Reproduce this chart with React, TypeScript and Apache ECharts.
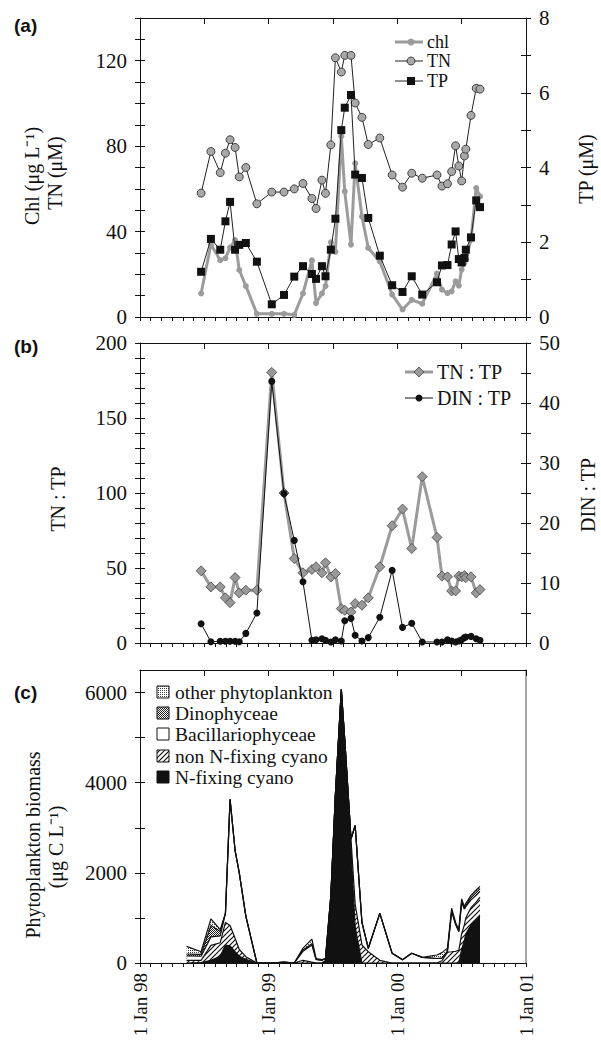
import React, { useEffect, useRef } from "react";
import * as echarts from "echarts";

// ---------- DATA ----------
const sampleDates = [
  "1998-06-22", "1998-07-20", "1998-08-16", "1998-08-31", "1998-09-13", "1998-09-27", "1998-10-09", "1998-10-28", "1998-11-28",
  "1999-01-10", "1999-02-13", "1999-03-13", "1999-04-07", "1999-05-02", "1999-05-14", "1999-05-31", "1999-06-10", "1999-06-25",
  "1999-07-08", "1999-07-25", "1999-08-04", "1999-08-22", "1999-09-03", "1999-09-22", "1999-10-10", "1999-11-12", "1999-12-17",
  "2000-01-16", "2000-02-11", "2000-03-11", "2000-04-22", "2000-05-06", "2000-05-22", "2000-06-03", "2000-06-14", "2000-06-23",
  "2000-07-01", "2000-07-09", "2000-07-13", "2000-07-28", "2000-08-12", "2000-08-23",
];
const chl = [11, 34, 26.6, 27.5, 32.5, 36, 22, 14.5, 1.5, 1.5, 1.5, 1, 11, 26.5, 6.5, 11, 14.5, 35, 30.5, 84.6, 58.8, 33.9, 72, 47, 32.3, 26, 10.5, 3.5, 8, 6.2, 20.3, 12.8, 11.2, 12, 16.7, 14.7, 22.2, 25.3, 27, 36.2, 60.4, 56.5];
const tn = [58, 77.5, 67.6, 76.7, 83, 79.4, 65.6, 70, 53, 58.5, 58.5, 60, 62.5, 55.5, 50.8, 64.1, 57.9, 80.6, 121.4, 114.7, 122.5, 122.5, 100.2, 93.5, 80.8, 83.8, 66.5, 60.8, 67.3, 65, 66.5, 61.3, 62.4, 68.1, 80.2, 70.7, 63.7, 75.4, 78.6, 94.4, 107.1, 106.7];
const tp = [1.21, 2.09, 1.8, 2.56, 3.08, 1.8, 1.93, 1.98, 1.48, 0.34, 0.59, 1.08, 1.36, 1.15, 1.02, 1.36, 1.09, 1.8, 2.63, 5.0, 5.6, 5.94, 3.81, 3.72, 2.65, 1.64, 0.85, 0.67, 1.09, 0.6, 0.93, 1.38, 1.39, 1.94, 2.29, 1.55, 1.46, 1.58, 1.8, 2.13, 3.12, 2.94];
const tnTp = [48.1, 37.4, 37.4, 30.1, 26.9, 43.6, 33.4, 35.2, 35.2, 180.4, 100, 56.3, 46.8, 49, 50.8, 46.8, 53.5, 44, 46.3, 22.9, 21.8, 20.7, 26.3, 25.2, 30.1, 50.8, 78.2, 89.3, 63, 110.9, 70.4, 44.6, 44.1, 34.7, 34.7, 44.6, 44.1, 45, 43.6, 44.1, 33.4, 35.6];
const dinTp = [3.2, 0.2, 0.3, 0.3, 0.3, 0.3, 0.2, 1.6, 5.0, 43.6, 24.9, 17.1, 10.2, 0.45, 0.55, 0.7, 0.45, 0.17, 0.55, 0.33, 3.7, 4.1, 1.3, 0.33, 0.9, 4.3, 12.1, 2.6, 3.3, 0.17, 0.17, 0.17, 0.55, 0.33, 0.17, 0.33, 0.55, 0.9, 1.0, 1.1, 0.7, 0.45];

const biomassDates = ["1998-05-12", ...sampleDates];
const nFixingCyano = [0, 10, 60, 150, 400, 380, 250, 150, 80, 0, 0, 0, 0, 0, 0, 0, 0, 50, 1400, 3700, 6000, 4850, 2500, 800, 0, 0, 0, 0, 0, 0, 0, 0, 0, 0, 0, 0, 0, 300, 500, 650, 850, 950, 1040];
const nonNFixingCyano = [60, 50, 330, 300, 500, 450, 300, 150, 60, 0, 0, 0, 0, 60, 20, 0, 0, 0, 50, 50, 67, 100, 250, 500, 400, 250, 60, 0, 0, 0, 0, 0, 50, 240, 250, 260, 280, 350, 350, 350, 380, 400, 420];
const bacillariophyceae = [100, 90, 190, 150, 200, 2800, 1950, 1700, 900, 0, 0, 20, 0, 200, 380, 80, 60, 50, 50, 0, 0, 0, 0, 1750, 500, 76, 1040, 215, 74, 215, 126, 100, 60, 20, 900, 600, 420, 700, 350, 250, 170, 150, 130];
const dinophyceae = [40, 40, 250, 100, 0, 0, 0, 0, 0, 0, 0, 0, 0, 30, 30, 0, 0, 0, 0, 0, 0, 0, 0, 0, 0, 0, 0, 0, 0, 0, 0, 0, 0, 0, 0, 0, 0, 0, 0, 30, 50, 60, 60];
const otherPhytoplankton = [170, 60, 150, 40, 0, 0, 0, 0, 0, 0, 0, 0, 0, 40, 100, 20, 14, 0, 0, 0, 0, 0, 0, 0, 0, 0, 0, 0, 0, 0, 0, 78, 120, 70, 65, 40, 40, 72, 50, 46, 50, 60, 50];

const xYearLabels = ["1 Jan 98", "1 Jan 99", "1 Jan 00", "1 Jan 01"];
const legendA = ["chl", "TN", "TP"];
const legendB = ["TN : TP", "DIN : TP"];
const legendC = ["other phytoplankton", "Dinophyceae", "Bacillariophyceae", "non N-fixing cyano", "N-fixing cyano"];

// ---------- HELPERS ----------
const SERIF = "Liberation Serif";
const SANS = "Liberation Sans";
const INK = "#111";
const GRAY = "#9b9b9b";

function toMonths(d: string): number {
  const [y, m, day] = d.split("-").map(Number);
  const dim = new Date(y, m, 0).getDate();
  return (y - 1998) * 12 + (m - 1) + (day - 1) / dim;
}

function makeCanvas(size: number, draw: (ctx: CanvasRenderingContext2D) => void) {
  const c = document.createElement("canvas");
  c.width = size;
  c.height = size;
  const ctx = c.getContext("2d")!;
  ctx.fillStyle = "#fff";
  ctx.fillRect(0, 0, size, size);
  draw(ctx);
  return c;
}

function patterns() {
  const hatch = makeCanvas(5, (ctx) => {
    ctx.strokeStyle = "#111";
    ctx.lineWidth = 1.2;
    ctx.beginPath();
    ctx.moveTo(0, 5); ctx.lineTo(5, 0);
    ctx.moveTo(-1, 1); ctx.lineTo(1, -1);
    ctx.moveTo(4, 6); ctx.lineTo(6, 4);
    ctx.stroke();
  });
  const dark = makeCanvas(4, (ctx) => {
    ctx.fillStyle = "#222";
    [[0, 0], [2, 0], [1, 1], [3, 1], [0, 2], [2, 2], [1, 3], [3, 3]].forEach(([x, y]) => ctx.fillRect(x, y, 1, 1));
  });
  const light = makeCanvas(4, (ctx) => {
    ctx.fillStyle = "#444";
    [[0, 0], [2, 0], [0, 2], [2, 2]].forEach(([x, y]) => ctx.fillRect(x, y, 1, 1));
  });
  return {
    hatch: { image: hatch, repeat: "repeat" },
    dark: { image: dark, repeat: "repeat" },
    light: { image: light, repeat: "repeat" },
  };
}

function buildOption() {
  const pat = patterns();
  const grids = [
    { left: 140, top: 18, width: 386, height: 299 },
    { left: 140, top: 343, width: 386, height: 300 },
    { left: 140, top: 670, width: 386, height: 293 },
  ];
  const axisLineStyle = { color: INK, width: 1 };

  const xAxis: any[] = [];
  const xMain: number[] = [];
  grids.forEach((_, g) => {
    xMain.push(xAxis.length);
    xAxis.push({
      type: "value", gridIndex: g, min: 0, max: 36, interval: 6,
      axisLine: { show: true, onZero: false, lineStyle: axisLineStyle },
      axisTick: { show: true, inside: false, length: 4, lineStyle: axisLineStyle },
      minorTick: { show: true, splitNumber: 6, length: 4, lineStyle: axisLineStyle },
      splitLine: { show: false },
      minorSplitLine: { show: false },
      axisLabel: g === 2 ? {
        show: true, rotate: 90, margin: 10, fontFamily: SERIF, fontSize: 19, color: INK,
        showMinLabel: true, showMaxLabel: true,
        formatter: (v: number) => (Math.round(v) % 12 === 0 ? xYearLabels[Math.round(v) / 12] : ""),
      } : { show: false },
    });
    xAxis.push({
      type: "value", gridIndex: g, min: 0, max: 36, interval: 6,
      axisLine: { show: false, onZero: false },
      axisTick: { show: true, inside: true, length: 6, lineStyle: axisLineStyle },
      axisLabel: { show: false }, splitLine: { show: false },
    });
    xAxis.push({
      type: "value", gridIndex: g, position: "top", min: 0, max: 36,
      axisLine: { show: true, onZero: false, lineStyle: axisLineStyle },
      axisTick: { show: false }, axisLabel: { show: false }, splitLine: { show: false },
    });
  });

  const yAxis: any[] = [];
  function addY(g: number, position: string, min: number, max: number, interval: number, labelStep: number, extra: any = {}) {
    const idx = yAxis.length;
    yAxis.push({
      type: "value", gridIndex: g, position, min, max, interval,
      axisLine: { show: true, onZero: false, lineStyle: axisLineStyle },
      axisTick: { show: true, inside: false, length: 5, lineStyle: axisLineStyle, ...(extra.tick || {}) },
      axisLabel: {
        show: true, margin: 13, fontFamily: SERIF, fontSize: 21, color: INK,
        formatter: (v: number) => {
          const r = Math.round(v * 1000) / 1000;
          return Math.abs(r / labelStep - Math.round(r / labelStep)) < 1e-6 && r <= (extra.labelMax ?? max) ? String(r) : "";
        },
      },
      splitLine: { show: false },
    });
    yAxis.push({
      type: "value", gridIndex: g, position, min, max, interval,
      axisLine: { show: false, onZero: false },
      axisTick: { show: true, inside: true, length: 5, lineStyle: axisLineStyle, ...(extra.tick || {}) },
      axisLabel: { show: false }, splitLine: { show: false },
    });
    return idx;
  }
  const yA_left = addY(0, "left", 0, 140, 10, 40);
  const yA_right = addY(0, "right", 0, 8, 1, 2);
  const yB_left = addY(1, "left", 0, 200, 10, 50);
  const yB_right = addY(1, "right", 0, 50, 5, 10);
  const cTicks = [0, 1000, 2000, 3000, 4000, 5000, 6000];
  const yC_left = addY(2, "left", 0, 6500, 1000, 2000, { labelMax: 6000, tick: { customValues: cTicks } });
  yAxis.push({
    type: "value", gridIndex: 2, position: "right", min: 0, max: 6500,
    axisLine: { show: true, onZero: false, lineStyle: { color: "#8a8a8a", width: 1.5 } },
    axisTick: { show: false }, axisLabel: { show: false }, splitLine: { show: false },
  });

  const pts = (dates: string[], vals: number[]) => dates.map((d, i) => [toMonths(d), vals[i]]);

  const series: any[] = [
    {
      name: "chl", type: "line", xAxisIndex: xMain[0], yAxisIndex: yA_left, data: pts(sampleDates, chl),
      symbol: "circle", symbolSize: 6, lineStyle: { color: GRAY, width: 3 }, itemStyle: { color: GRAY }, z: 2,
    },
    {
      name: "TN", type: "line", xAxisIndex: xMain[0], yAxisIndex: yA_left, data: pts(sampleDates, tn),
      symbol: "circle", symbolSize: 8, lineStyle: { color: "#222", width: 1 },
      itemStyle: { color: "#a8a8a8", borderColor: "#222", borderWidth: 0.8 }, z: 3,
    },
    {
      name: "TP", type: "line", xAxisIndex: xMain[0], yAxisIndex: yA_right, data: pts(sampleDates, tp),
      symbol: "rect", symbolSize: 8, lineStyle: { color: "#222", width: 1 }, itemStyle: { color: INK }, z: 4,
    },
    {
      name: "TN : TP", type: "line", xAxisIndex: xMain[1], yAxisIndex: yB_left, data: pts(sampleDates, tnTp),
      symbol: "diamond", symbolSize: 10, lineStyle: { color: GRAY, width: 3 },
      itemStyle: { color: "#999", borderColor: "#444", borderWidth: 0.8 }, z: 2,
    },
    {
      name: "DIN : TP", type: "line", xAxisIndex: xMain[1], yAxisIndex: yB_right, data: pts(sampleDates, dinTp),
      symbol: "circle", symbolSize: 7, lineStyle: { color: INK, width: 1 }, itemStyle: { color: INK }, z: 3,
    },
  ];

  // stacked biomass (cumulative, drawn top layer first so lower layers paint over)
  const layers = [
    { name: "N-fixing cyano", vals: nFixingCyano, fill: "#111" },
    { name: "non N-fixing cyano", vals: nonNFixingCyano, fill: pat.hatch },
    { name: "Bacillariophyceae", vals: bacillariophyceae, fill: "#fff" },
    { name: "Dinophyceae", vals: dinophyceae, fill: pat.dark },
    { name: "other phytoplankton", vals: otherPhytoplankton, fill: pat.light },
  ];
  const cum: number[][] = [];
  layers.forEach((l, k) => {
    cum.push(l.vals.map((v, i) => v + (k > 0 ? cum[k - 1][i] : 0)));
  });
  for (let k = layers.length - 1; k >= 0; k--) {
    series.push({
      name: layers[k].name, type: "line", xAxisIndex: xMain[2], yAxisIndex: yC_left,
      data: pts(biomassDates, cum[k]), symbol: "none",
      lineStyle: { color: INK, width: 1.2 },
      areaStyle: { color: layers[k].fill, opacity: 1 },
      z: 2,
    });
  }

  // ---------- graphics ----------
  const txt = (text: string, x: number, y: number, o: any = {}) => ({
    type: "text", x, y, rotation: o.rot ? Math.PI / 2 : 0, silent: true, z: 100,
    style: {
      text, fill: INK, fontSize: o.size ?? 20, fontFamily: o.family ?? SERIF, fontWeight: o.bold ? "bold" : "normal",
      align: o.align ?? "center", verticalAlign: "middle",
    },
  });
  const ln = (x1: number, y1: number, x2: number, y2: number, stroke: string, w: number) => ({
    type: "line", silent: true, z: 100, shape: { x1, y1, x2, y2 }, style: { stroke, lineWidth: w },
  });

  const graphic: any[] = [
    txt("(a)", 14, 25, { family: SANS, bold: true, size: 19, align: "left" }),
    txt("(b)", 14, 346, { family: SANS, bold: true, size: 19, align: "left" }),
    txt("(c)", 14, 692, { family: SANS, bold: true, size: 19, align: "left" }),
    txt("Chl (μg L⁻¹)", 32, 176, { rot: true }),
    txt("TN (μM)", 55, 173, { rot: true }),
    txt("TP (μM)", 586, 169, { rot: true }),
    txt("TN : TP", 58, 499, { rot: true }),
    txt("DIN : TP", 588, 495, { rot: true }),
    txt("Phytoplankton biomass", 33, 845, { rot: true }),
    txt("(μg C L⁻¹)", 56, 847, { rot: true }),
  ];

  // legend (a)
  const la = [42, 61, 81];
  graphic.push(ln(395, la[0], 423, la[0], GRAY, 3));
  graphic.push({ type: "circle", silent: true, z: 101, shape: { cx: 411, cy: la[0], r: 3.5 }, style: { fill: GRAY } });
  graphic.push(ln(395, la[1], 423, la[1], "#222", 1));
  graphic.push({ type: "circle", silent: true, z: 101, shape: { cx: 411, cy: la[1], r: 4 }, style: { fill: "#a8a8a8", stroke: "#222", lineWidth: 0.8 } });
  graphic.push(ln(395, la[2], 423, la[2], "#222", 1));
  graphic.push({ type: "rect", silent: true, z: 101, shape: { x: 407, y: la[2] - 4, width: 8, height: 8 }, style: { fill: INK } });
  legendA.forEach((t, i) => graphic.push(txt(t, 427, la[i], { align: "left", size: 18 })));

  // legend (b)
  const lb = [372, 398];
  graphic.push(ln(405, lb[0], 433, lb[0], GRAY, 3));
  graphic.push({ type: "polygon", silent: true, z: 101, shape: { points: [[419, lb[0] - 5], [424, lb[0]], [419, lb[0] + 5], [414, lb[0]]] }, style: { fill: "#999", stroke: "#444", lineWidth: 0.8 } });
  graphic.push(ln(405, lb[1], 433, lb[1], INK, 1));
  graphic.push({ type: "circle", silent: true, z: 101, shape: { cx: 419, cy: lb[1], r: 3.5 }, style: { fill: INK } });
  legendB.forEach((t, i) => graphic.push(txt(t, 437, lb[i], { align: "left" })));

  // legend (c)
  const lc = [692, 713, 734, 756, 777];
  const lcFill = [pat.light, pat.dark, "#fff", pat.hatch, "#111"];
  legendC.forEach((t, i) => {
    graphic.push({ type: "rect", silent: true, z: 101, shape: { x: 157, y: lc[i] - 6, width: 12, height: 12 }, style: { fill: lcFill[i], stroke: INK, lineWidth: 1 } });
    graphic.push(txt(t, 175, lc[i], { align: "left", size: 19.5 }));
  });

  return {
    animation: false,
    backgroundColor: "#fff",
    grid: grids,
    xAxis,
    yAxis,
    series,
    graphic,
  };
}

export default function App() {
  const ref = useRef<HTMLDivElement>(null);
  useEffect(() => {
    const chart = echarts.init(ref.current!, null, { renderer: "svg" });
    chart.setOption(buildOption() as any);
    return () => chart.dispose();
  }, []);
  return (
    <div
      ref={ref}
      style={{ position: "absolute", left: 0, top: 0, width: 601, height: 1045, background: "#fff" }}
    />
  );
}
